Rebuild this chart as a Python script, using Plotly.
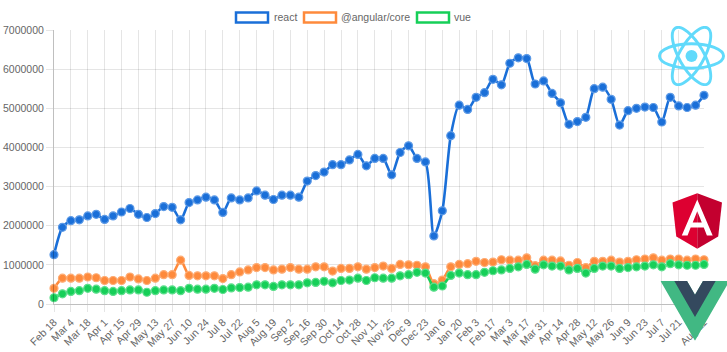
import base64
import plotly.graph_objects as go

weeks = ["Feb 18", "Feb 25", "Mar 4", "Mar 11", "Mar 18", "Mar 25", "Apr 1", "Apr 8", "Apr 15", "Apr 22",
         "Apr 29", "May 6", "May 13", "May 20", "May 27", "Jun 3", "Jun 10", "Jun 17", "Jun 24", "Jul 1",
         "Jul 8", "Jul 15", "Jul 22", "Jul 29", "Aug 5", "Aug 12", "Aug 19", "Aug 26", "Sep 2", "Sep 9",
         "Sep 16", "Sep 23", "Sep 30", "Oct 7", "Oct 14", "Oct 21", "Oct 28", "Nov 4", "Nov 11", "Nov 18",
         "Nov 25", "Dec 2", "Dec 9", "Dec 16", "Dec 23", "Dec 30", "Jan 6", "Jan 13", "Jan 20", "Jan 27",
         "Feb 3", "Feb 10", "Feb 17", "Feb 24", "Mar 3", "Mar 10", "Mar 17", "Mar 24", "Mar 31", "Apr 7",
         "Apr 14", "Apr 21", "Apr 28", "May 5", "May 12", "May 19", "May 26", "Jun 2", "Jun 9", "Jun 16",
         "Jun 23", "Jun 30", "Jul 7", "Jul 14", "Jul 21", "Jul 28", "Aug 4", "Aug 11"]

react = [1.26, 1.96, 2.13, 2.15, 2.25, 2.29, 2.16, 2.25, 2.35, 2.44,
         2.29, 2.21, 2.31, 2.49, 2.47, 2.15, 2.59, 2.66, 2.73, 2.66,
         2.34, 2.71, 2.66, 2.71, 2.89, 2.78, 2.67, 2.78, 2.78, 2.73,
         3.14, 3.28, 3.37, 3.56, 3.56, 3.68, 3.82, 3.53, 3.72, 3.72,
         3.30, 3.87, 4.04, 3.72, 3.63, 1.74, 2.38, 4.30, 5.08, 4.97,
         5.28, 5.40, 5.74, 5.60, 6.15, 6.29, 6.27, 5.62, 5.70, 5.38,
         5.14, 4.59, 4.66, 4.77, 5.50, 5.54, 5.23, 4.57, 4.94, 5.00,
         5.03, 5.02, 4.65, 5.28, 5.06, 5.02, 5.08, 5.33]

angular = [0.40, 0.66, 0.66, 0.66, 0.69, 0.67, 0.60, 0.60, 0.60, 0.69,
           0.64, 0.60, 0.66, 0.75, 0.75, 1.12, 0.73, 0.72, 0.72, 0.72,
           0.65, 0.75, 0.82, 0.87, 0.93, 0.93, 0.87, 0.89, 0.93, 0.89,
           0.89, 0.95, 0.95, 0.84, 0.91, 0.91, 0.95, 0.89, 0.93, 0.97,
           0.91, 1.01, 1.00, 0.99, 0.95, 0.52, 0.61, 0.95, 1.01, 1.03,
           1.09, 1.06, 1.07, 1.13, 1.12, 1.12, 1.18, 0.98, 1.12, 1.12,
           1.10, 0.99, 1.06, 0.93, 1.09, 1.09, 1.12, 1.07, 1.09, 1.13,
           1.15, 1.18, 1.12, 1.15, 1.15, 1.12, 1.15, 1.13]

vue = [0.16, 0.26, 0.32, 0.34, 0.40, 0.38, 0.34, 0.32, 0.34, 0.36,
       0.36, 0.30, 0.34, 0.36, 0.36, 0.34, 0.40, 0.38, 0.38, 0.40,
       0.37, 0.41, 0.42, 0.43, 0.49, 0.49, 0.45, 0.49, 0.49, 0.49,
       0.54, 0.55, 0.58, 0.54, 0.60, 0.61, 0.66, 0.60, 0.67, 0.66,
       0.66, 0.72, 0.75, 0.81, 0.79, 0.43, 0.46, 0.73, 0.79, 0.75,
       0.75, 0.81, 0.85, 0.87, 0.91, 0.95, 1.01, 0.89, 1.00, 0.97,
       0.97, 0.87, 0.91, 0.79, 0.91, 0.97, 0.97, 0.91, 0.93, 0.95,
       0.97, 1.00, 0.95, 1.03, 1.00, 0.99, 0.99, 1.01]

series_names = ["react", "@angular/core", "vue"]
series_values = [react, angular, vue]
series_colors = ["#1a6fd8", "#fe8a3c", "#16cf58"]
series_rims = ["#5d9ae6", "#feac74", "#5cdf8c"]

y_ticks = [0, 1000000, 2000000, 3000000, 4000000, 5000000, 6000000, 7000000]

W, H = 727, 352
L, R, T, B = 54, 704, 30, 304
FS = 10.5


def px(x):
    return (x - L) / (R - L)


def py(y):
    return (B - y) / (B - T)


fig = go.Figure()
for name, vals, col, rim in zip(series_names, series_values, series_colors, series_rims):
    fig.add_trace(go.Scatter(
        x=weeks, y=[v * 1e6 for v in vals], name=name, mode="lines+markers",
        line=dict(color=col, width=2.6, shape="spline", smoothing=0.7),
        marker=dict(size=8, color=col, line=dict(color=rim, width=1.2)),
        cliponaxis=False, showlegend=False,
    ))

tick_idx = list(range(0, 75, 2)) + [77]
grid = "rgba(0,0,0,0.1)"
font = "Liberation Sans, Arial, Helvetica, sans-serif"

fig.update_layout(
    width=W, height=H,
    margin=dict(l=L, r=W - R, t=T, b=H - B, pad=0, autoexpand=False),
    paper_bgcolor="white", plot_bgcolor="white",
    font=dict(family=font, size=FS, color="#666"),
    xaxis=dict(
        type="category", range=[0, len(weeks) - 1], automargin=False,
        tickvals=[weeks[i] for i in tick_idx], ticktext=[weeks[i] for i in tick_idx],
        tickangle=-45, showgrid=True, gridcolor=grid, gridwidth=1,
        ticks="outside", ticklen=7, tickcolor=grid,
        showline=True, linecolor="rgba(0,0,0,0.25)", linewidth=1,
        tickfont=dict(size=FS, color="#666"),
    ),
    yaxis=dict(
        range=[0, 7000000], tickvals=y_ticks, tickformat="d", automargin=False,
        showgrid=True, gridcolor=grid, gridwidth=1, zeroline=False,
        ticks="outside", ticklen=7, tickcolor=grid,
        showline=True, linecolor="rgba(0,0,0,0.25)", linewidth=1,
        tickfont=dict(size=FS, color="#666"),
    ),
)

# custom legend (Chart.js style boxes)
legend_boxes = [(236, 272.5), (304, 340), (417, 453.5)]
shapes = []
annotations = []
for (bx, tx), name, col in zip(legend_boxes, series_names, series_colors):
    shapes.append(dict(type="rect", xref="paper", yref="paper",
                       x0=px(bx), x1=px(bx + 32), y0=py(22.5), y1=py(12.5),
                       line=dict(color=col, width=2.5), fillcolor="white", layer="above"))
    annotations.append(dict(xref="paper", yref="paper", x=px(tx), y=py(17.5),
                            text=name, showarrow=False, xanchor="left", yanchor="middle",
                            borderpad=0, font=dict(family=font, size=FS, color="#666")))
fig.update_layout(shapes=shapes, annotations=annotations)

# logos
react_svg = ('<svg xmlns="http://www.w3.org/2000/svg" viewBox="-11.5 -10.23174 23 20.46348">'
             '<circle cx="0" cy="0" r="2.05" fill="#61dafb"/>'
             '<g stroke="#61dafb" stroke-width="1" fill="none">'
             '<ellipse rx="11" ry="4.2"/>'
             '<ellipse rx="11" ry="4.2" transform="rotate(60)"/>'
             '<ellipse rx="11" ry="4.2" transform="rotate(120)"/></g></svg>')
angular_svg = ('<svg xmlns="http://www.w3.org/2000/svg" viewBox="30 29 190 202">'
               '<polygon fill="#dd0031" points="125,30 31.9,63.2 46.1,186.3 125,230"/>'
               '<polygon fill="#c3002f" points="125,30 125,230 203.9,186.3 218.1,63.2"/>'
               '<path fill="#ffffff" d="M125,52.1L66.8,182.6h21.7l11.7-29.2h49.4l11.7,29.2H183L125,52.1z M142,135.4h-34l17-40.9L142,135.4z"/>'
               '</svg>')
vue_svg = ('<svg xmlns="http://www.w3.org/2000/svg" viewBox="0 0 261.76 226.69">'
           '<path fill="#41b883" d="M161.096.001l-30.225 52.351L100.647.001H-.005l130.877 226.688L261.749.001z"/>'
           '<path fill="#34495e" d="M161.096.001l-30.225 52.351L100.647.001H52.346l78.526 136.01L209.398.001z"/>'
           '</svg>')


def uri(svg):
    return "data:image/svg+xml;base64," + base64.b64encode(svg.encode()).decode()


logos = [(react_svg, 658, 26, 67, 60), (angular_svg, 672, 193, 50.5, 56), (vue_svg, 660.5, 281, 69, 59.8)]
images = []
for svg, x0, y0, w, h in logos:
    images.append(dict(source=uri(svg), xref="paper", yref="paper", x=px(x0), y=py(y0),
                       sizex=w / (R - L), sizey=h / (B - T), xanchor="left", yanchor="top",
                       sizing="stretch", layer="above"))
fig.update_layout(images=images)

fig.write_html("out.html")
